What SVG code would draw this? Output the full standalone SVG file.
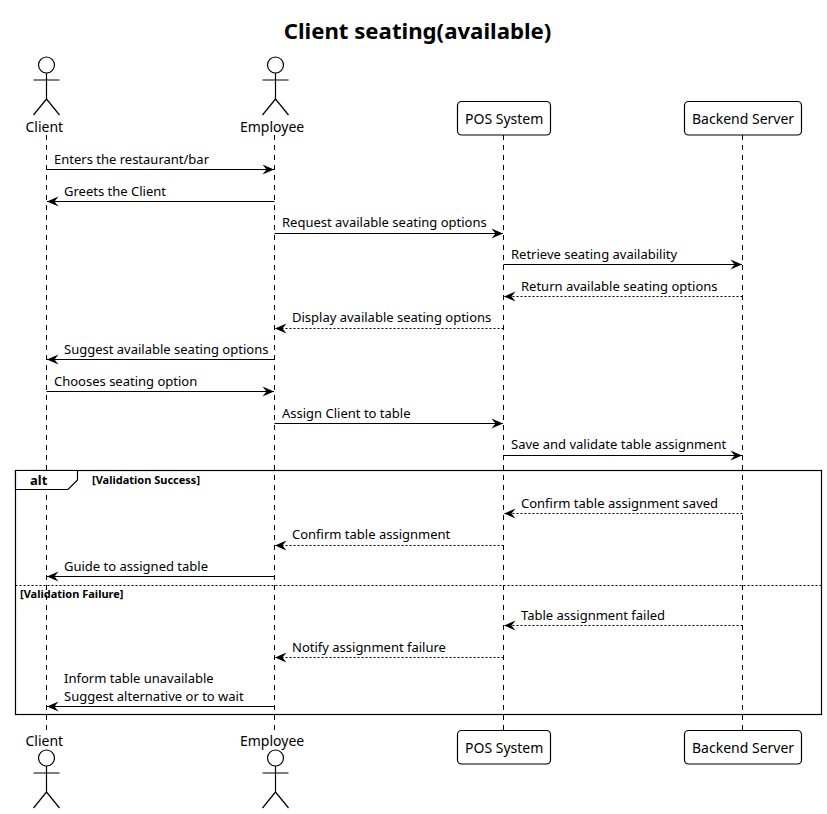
<svg xmlns="http://www.w3.org/2000/svg" width="827" height="814" viewBox="0 0 827 814">
<style>
text{font-family:"Noto Sans","Open Sans",sans-serif;font-size:13px;fill:#000}
.title{font-size:22.2px;font-weight:700}
.p{font-size:14px}
.g{font-size:11px;font-weight:700}
.alt{font-size:13px;font-weight:700}
.m{stroke:#000;stroke-width:1;fill:none}
.d{stroke-dasharray:2 2}
.l{stroke:#000;stroke-width:1;stroke-dasharray:5 5;fill:none}
.b{fill:#fff;stroke:#000;stroke-width:1.2}
.a{fill:none;stroke:#000;stroke-width:1.2}
.h{fill:#fff;stroke:#000;stroke-width:1.2}
</style>
<defs>
<marker id="ah" markerUnits="userSpaceOnUse" markerWidth="14" markerHeight="12" refX="12" refY="6" orient="auto-start-reverse"><path d="M0.5 1L12 6L0.5 11L4.5 6Z" fill="#000"/></marker>
<g id="actor"><circle class="h" cx="0" cy="0" r="8"/><path class="a" d="M0 8V34M-13 15H13M0 34L-13 50M0 34L13 50"/></g>
</defs>
<text class="title" x="417.5" y="39" text-anchor="middle">Client seating(available)</text>
<g id="lifelines">
<path class="l" d="M46.5 135V731"/><path class="l" d="M274.5 135V731"/><path class="l" d="M503.5 135V731"/><path class="l" d="M742.5 135V731"/>
</g>
<g id="frame">
<rect x="15.5" y="470.5" width="806" height="244" fill="none" stroke="#000" stroke-width="1.2"/>
<path class="b" d="M15.5 470.5H77.5V480L68 489.5H15.5Z"/>
<text class="alt" x="30" y="485">alt</text>
<text class="g" x="92" y="484">[Validation Success]</text>
<path class="m d" d="M15.5 585.5H821.5"/>
<text class="g" x="20" y="598">[Validation Failure]</text>
</g>
<g id="client"><use href="#actor" x="46.5" y="65"/><text class="p" x="25.5" y="132">Client</text><text class="p" x="25.5" y="746">Client</text><use href="#actor" x="46.5" y="758"/></g>
<g id="employee"><use href="#actor" x="275.5" y="65"/><text class="p" x="240" y="132">Employee</text><text class="p" x="240" y="746">Employee</text><use href="#actor" x="275.5" y="758"/></g>
<g id="pos"><rect class="b" x="457.5" y="101.5" width="93" height="33.5" rx="4"/><text class="p" x="465" y="124">POS System</text><rect class="b" x="457.5" y="730.5" width="93" height="33.5" rx="4"/><text class="p" x="465" y="753">POS System</text></g>
<g id="backend"><rect class="b" x="684.5" y="101.5" width="117" height="33.5" rx="4"/><text class="p" x="692" y="124">Backend Server</text><rect class="b" x="684.5" y="730.5" width="117" height="33.5" rx="4"/><text class="p" x="692" y="753">Backend Server</text></g>
<g id="connectors">
<path class="m" marker-end="url(#ah)" d="M46.5 169.5H274"/><text x="54" y="164">Enters the restaurant/bar</text>
<path class="m" marker-end="url(#ah)" d="M274.5 201.5H47"/><text x="64" y="196">Greets the Client</text>
<path class="m" marker-end="url(#ah)" d="M274.5 233.5H503"/><text x="282" y="227">Request available seating options</text>
<path class="m" marker-end="url(#ah)" d="M503.5 264.5H742"/><text x="511" y="259">Retrieve seating availability</text>
<path class="m d" marker-end="url(#ah)" d="M742.5 296.5H504"/><text x="521" y="291">Return available seating options</text>
<path class="m d" marker-end="url(#ah)" d="M503.5 328.5H275"/><text x="292" y="322">Display available seating options</text>
<path class="m" marker-end="url(#ah)" d="M274.5 359.5H47"/><text x="64" y="354">Suggest available seating options</text>
<path class="m" marker-end="url(#ah)" d="M46.5 391.5H274"/><text x="54" y="386">Chooses seating option</text>
<path class="m" marker-end="url(#ah)" d="M274.5 423.5H503"/><text x="282" y="418">Assign Client to table</text>
<path class="m" marker-end="url(#ah)" d="M503.5 455.5H742"/><text x="511" y="449">Save and validate table assignment</text>
<path class="m d" marker-end="url(#ah)" d="M742.5 513.5H504"/><text x="521" y="508">Confirm table assignment saved</text>
<path class="m d" marker-end="url(#ah)" d="M503.5 545.5H275"/><text x="292" y="539">Confirm table assignment</text>
<path class="m" marker-end="url(#ah)" d="M274.5 576.5H47"/><text x="64" y="571">Guide to assigned table</text>
<path class="m d" marker-end="url(#ah)" d="M742.5 625.5H504"/><text x="521" y="620">Table assignment failed</text>
<path class="m d" marker-end="url(#ah)" d="M503.5 657.5H275"/><text x="292" y="652">Notify assignment failure</text>
<path class="m" marker-end="url(#ah)" d="M274.5 706.5H47"/><text x="64" y="683">Inform table unavailable</text><text x="64" y="701">Suggest alternative or to wait</text>
</g>
</svg>
